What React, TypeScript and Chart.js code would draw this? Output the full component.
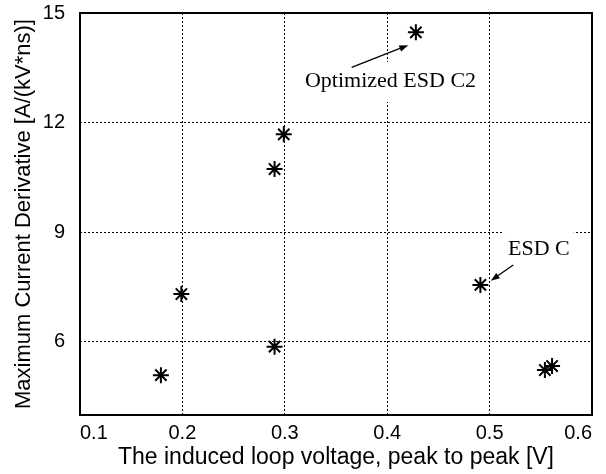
import React, { useEffect, useRef } from "react";
import { Chart, registerables } from "chart.js";

Chart.register(...registerables);

// ---- data ----
const voltages = [0.179, 0.199, 0.290, 0.290, 0.299, 0.428, 0.491, 0.554, 0.561];
const derivatives = [5.09, 7.31, 5.87, 10.73, 11.68, 14.47, 7.56, 5.23, 5.34];
const xTicks = [0.1, 0.2, 0.3, 0.4, 0.5, 0.6];
const yTicks = [6, 9, 12, 15];
const xTitle = "The induced loop voltage, peak to peak [V]";
const yTitle = "Maximum Current Derivative [A/(kV*ns)]";

// annotation labels (data coordinates): text anchor = left/baseline
const labelTexts = ["Optimized ESD C2", "ESD C"];
const labelX = [0.3197, 0.518];
const labelY = [12.975, 8.378];
// arrows: tail -> head (data coordinates)
const arrowFromX = [0.3653, 0.5231];
const arrowFromY = [13.51, 8.104];
const arrowToX = [0.4206, 0.5011];
const arrowToY = [14.12, 7.675];

const annotationPlugin = {
  id: "annots",
  afterDraw(chart: any) {
    const { ctx, chartArea, scales } = chart;
    const xs = scales.x;
    const ys = scales.y;
    ctx.save();
    // label boxes (white, hide grid behind text)
    ctx.font = "22px 'Liberation Serif'";
    ctx.fillStyle = "#fff";
    labelTexts.forEach((t, i) => {
      const w = ctx.measureText(t).width;
      const px = xs.getPixelForValue(labelX[i]);
      const py = ys.getPixelForValue(labelY[i]);
      ctx.fillRect(px - 4, py - 25, w + 8, 40);
    });
    // frame box
    ctx.strokeStyle = "#000";
    ctx.lineWidth = 2;
    ctx.setLineDash([]);
    ctx.strokeRect(
      chartArea.left,
      chartArea.top,
      chartArea.right - chartArea.left,
      chartArea.bottom - chartArea.top
    );
    // labels
    ctx.fillStyle = "#000";
    ctx.textAlign = "left";
    ctx.textBaseline = "alphabetic";
    labelTexts.forEach((t, i) => {
      ctx.fillText(t, xs.getPixelForValue(labelX[i]), ys.getPixelForValue(labelY[i]));
    });
    // arrows
    ctx.lineWidth = 1.3;
    arrowFromX.forEach((_, i) => {
      const x1 = xs.getPixelForValue(arrowFromX[i]);
      const y1 = ys.getPixelForValue(arrowFromY[i]);
      const x2 = xs.getPixelForValue(arrowToX[i]);
      const y2 = ys.getPixelForValue(arrowToY[i]);
      const ang = Math.atan2(y2 - y1, x2 - x1);
      const hl = 9;
      const hw = 3.2;
      const bx = x2 - hl * Math.cos(ang);
      const by = y2 - hl * Math.sin(ang);
      ctx.beginPath();
      ctx.moveTo(x1, y1);
      ctx.lineTo(bx, by);
      ctx.stroke();
      ctx.beginPath();
      ctx.moveTo(x2, y2);
      ctx.lineTo(bx + hw * Math.sin(ang), by - hw * Math.cos(ang));
      ctx.lineTo(bx - hw * Math.sin(ang), by + hw * Math.cos(ang));
      ctx.closePath();
      ctx.fill();
    });
    ctx.restore();
  },
};

export default function App() {
  const ref = useRef<HTMLCanvasElement | null>(null);
  useEffect(() => {
    if (!ref.current) return;
    const tickFont = { family: "'Liberation Sans', Arial, sans-serif", size: 20 };
    const chart = new Chart(ref.current, {
      type: "scatter",
      data: {
        datasets: [
          {
            data: voltages.map((v, i) => ({ x: v, y: derivatives[i] })),
            pointStyle: "star",
            pointRadius: 8,
            pointHoverRadius: 8,
            borderColor: "#000",
            backgroundColor: "#000",
            borderWidth: 2,
          },
        ],
      },
      options: {
        responsive: false,
        animation: false,
        layout: { padding: { top: 13, right: 14, left: 0, bottom: 0 } },
        plugins: { legend: { display: false }, tooltip: { enabled: false } },
        scales: {
          x: {
            type: "linear",
            min: 0.1,
            max: 0.6,
            afterBuildTicks: (s: any) => {
              s.ticks = xTicks.map((v) => ({ value: v }));
            },
            afterFit: (s: any) => {
              s.height = 59;
              s.paddingLeft = 0;
              s.paddingRight = 0;
            },
            ticks: {
              font: tickFont,
              color: "#000",
              padding: 6,
              align: "inner",
              maxRotation: 0,
              autoSkip: false,
              callback: (v: any) => Number(v).toFixed(1),
            },
            grid: { color: "#000", lineWidth: 1, drawTicks: false },
            border: { display: false, dash: [2, 2] },
            title: {
              display: true,
              text: xTitle,
              color: "#000",
              font: { family: "'Liberation Sans', Arial, sans-serif", size: 23 },
              padding: { top: 0, bottom: 3 },
            },
          },
          y: {
            type: "linear",
            min: 4,
            max: 15,
            afterBuildTicks: (s: any) => {
              s.ticks = yTicks.map((v) => ({ value: v }));
            },
            afterFit: (s: any) => {
              s.width = 80;
              s.paddingTop = 0;
              s.paddingBottom = 0;
            },
            ticks: {
              font: tickFont,
              color: "#000",
              padding: 15,
              callback: (v: any) => String(v),
            },
            grid: { color: "#000", lineWidth: 1, drawTicks: false },
            border: { display: false, dash: [2, 2] },
            title: {
              display: true,
              text: yTitle,
              color: "#000",
              font: { family: "'Liberation Sans', Arial, sans-serif", size: 22 },
              padding: { top: 11, bottom: 0 },
            },
          },
        },
      },
      plugins: [annotationPlugin],
    } as any);
    return () => chart.destroy();
  }, []);
  return (
    <div style={{ position: "absolute", left: 0, top: 0, width: 606, height: 474, background: "#fff" }}>
      <canvas ref={ref} width={606} height={474} style={{ display: "block" }} />
    </div>
  );
}
